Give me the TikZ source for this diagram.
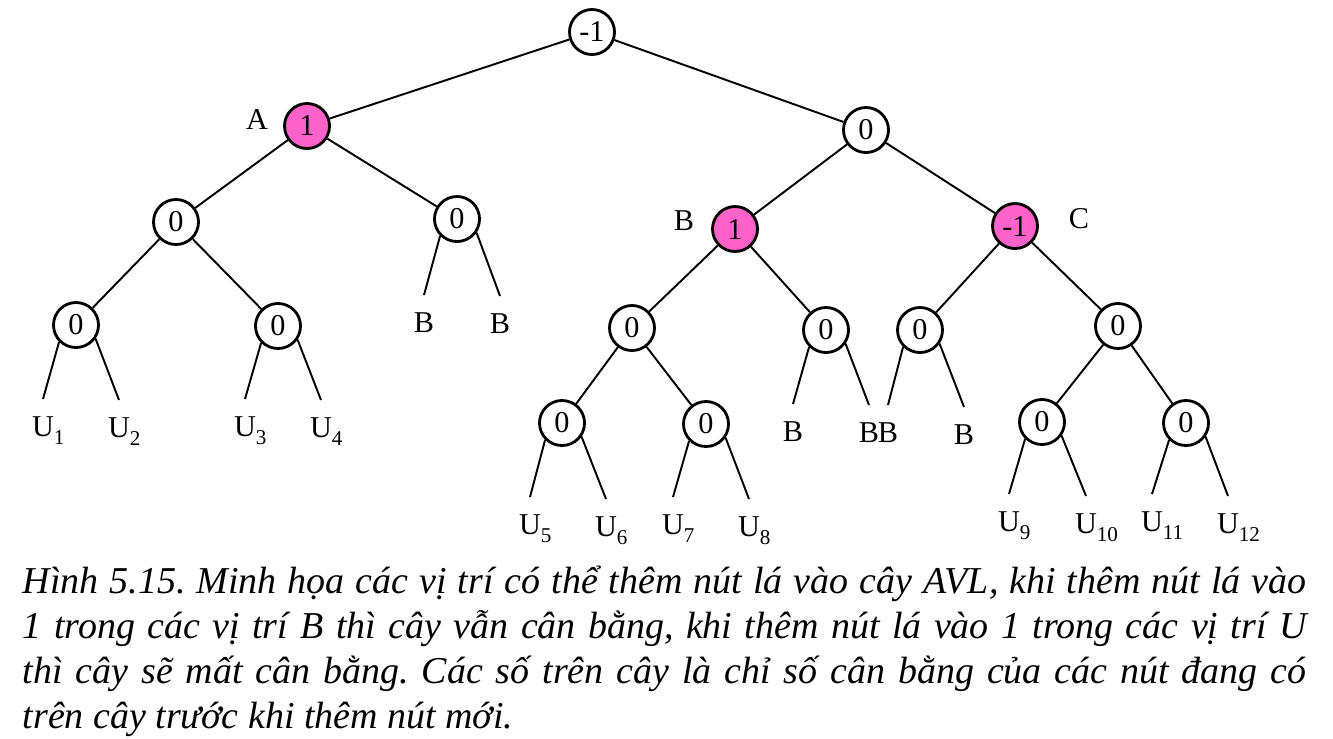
\documentclass[tikz,border=0pt]{standalone}
\usepackage{fontspec}
\setmainfont{Liberation Serif}
\usepackage{tikz}
\pgfdeclarelayer{edgelayer}
\pgfdeclarelayer{nodelayer}
\pgfsetlayers{edgelayer,nodelayer,main}
\definecolor{lpink}{RGB}{252,98,200}
\tikzstyle{none}=[inner sep=0pt]
\tikzstyle{balance}=[circle,fill=white,draw=black,line width=0.8pt,minimum size=0.45cm,inner sep=0pt,font=\fontsize{8.6pt}{10pt}\selectfont]
\tikzstyle{critical}=[balance,fill=lpink]
\tikzstyle{leaf}=[anchor=north,inner xsep=0pt,inner ysep=0.17cm,font=\fontsize{8.6pt}{10pt}\selectfont]
\tikzstyle{tag}=[inner sep=0pt,font=\fontsize{8.6pt}{10pt}\selectfont]
\tikzstyle{branch}=[-,line width=0.55pt]
\tikzstyle{caption}=[inner sep=0pt,text width=12.83cm,align=justify,font=\fontsize{10.8pt}{12.8pt}\selectfont\itshape\frenchspacing]
\newcommand{\uleaf}[1]{U\rlap{\raisebox{-0.55ex}{\fontsize{6pt}{7pt}\selectfont #1}}}

\begin{document}
\begin{tikzpicture}[x=0.01cm,y=-0.01cm]
	\useasboundingbox (0,0) rectangle (1333,738);
	\begin{pgfonlayer}{nodelayer}
		\node [style=balance] (0) at (592, 32) {-1};
		\node [style=critical] (1) at (307, 126) {1};
		\node [style=balance] (2) at (866, 130) {0};
		\node [style=balance] (3) at (176, 222) {0};
		\node [style=balance] (4) at (457, 219) {0};
		\node [style=critical] (5) at (735, 229) {1};
		\node [style=critical] (6) at (1015, 226) {-1};
		\node [style=balance] (7) at (76, 325) {0};
		\node [style=balance] (8) at (278, 326) {0};
		\node [style=balance] (9) at (632, 328) {0};
		\node [style=balance] (10) at (826, 330) {0};
		\node [style=balance] (11) at (920, 330) {0};
		\node [style=balance] (12) at (1118, 326) {0};
		\node [style=balance] (13) at (562, 423) {0};
		\node [style=balance] (14) at (706, 424) {0};
		\node [style=balance] (15) at (1042, 422) {0};
		\node [style=balance] (16) at (1186, 423) {0};
%		leaves
		\node [style=leaf] (17) at (43, 399) {\uleaf{1}};
		\node [style=leaf] (18) at (119, 400) {\uleaf{2}};
		\node [style=leaf] (19) at (245, 399) {\uleaf{3}};
		\node [style=leaf] (20) at (321, 400) {\uleaf{4}};
		\node [style=leaf] (21) at (424, 295) {B};
		\node [style=leaf] (22) at (500, 296) {B};
		\node [style=leaf] (23) at (793, 404) {B};
		\node [style=leaf] (24) at (869, 405) {B};
		\node [style=leaf] (25) at (888, 405) {B};
		\node [style=leaf] (26) at (964, 407) {B};
		\node [style=leaf] (27) at (530, 497) {\uleaf{5}};
		\node [style=leaf] (28) at (606, 499) {\uleaf{6}};
		\node [style=leaf] (29) at (673, 497) {\uleaf{7}};
		\node [style=leaf] (30) at (749, 499) {\uleaf{8}};
		\node [style=leaf] (31) at (1009, 494) {\uleaf{9}};
		\node [style=leaf] (32) at (1086, 496) {\uleaf{10}};
		\node [style=leaf] (33) at (1152, 494) {\uleaf{11}};
		\node [style=leaf] (34) at (1228, 496) {\uleaf{12}};
%		names
		\node [style=tag] (35) at (257, 120) {A};
		\node [style=tag] (36) at (684, 221) {B};
		\node [style=tag] (37) at (1079, 219) {C};
		\node [style=caption, anchor=north west] (38) at (22, 565) {H\`inh 5.15. Minh họa các vị trí có thể thêm nút lá vào cây AVL, khi thêm nút lá vào\linebreak 1 trong các vị trí B thì cây vẫn cân bằng, khi thêm nút lá vào 1 trong các vị trí U\linebreak thì cây sẽ mất cân bằng. Các số trên cây là chỉ số cân bằng của các nút đang có\linebreak trên cây trước khi thêm nút mới.};
	\end{pgfonlayer}
	\begin{pgfonlayer}{edgelayer}
		\draw [style=branch] (0) to (1);
		\draw [style=branch] (0) to (2);
		\draw [style=branch] (1) to (3);
		\draw [style=branch] (1) to (4);
		\draw [style=branch] (2) to (5);
		\draw [style=branch] (2) to (6);
		\draw [style=branch] (3) to (7);
		\draw [style=branch] (3) to (8);
		\draw [style=branch] (4.225) to (21.north);
		\draw [style=branch] (4.325) to (22.north);
		\draw [style=branch] (5) to (9);
		\draw [style=branch] (5) to (10);
		\draw [style=branch] (6) to (11);
		\draw [style=branch] (6) to (12);
		\draw [style=branch] (7.225) to (17.north);
		\draw [style=branch] (7.325) to (18.north);
		\draw [style=branch] (8.225) to (19.north);
		\draw [style=branch] (8.325) to (20.north);
		\draw [style=branch] (9) to (13);
		\draw [style=branch] (9) to (14);
		\draw [style=branch] (10.225) to (23.north);
		\draw [style=branch] (10.325) to (24.north);
		\draw [style=branch] (11.225) to (25.north);
		\draw [style=branch] (11.325) to (26.north);
		\draw [style=branch] (12) to (15);
		\draw [style=branch] (12) to (16);
		\draw [style=branch] (13.225) to (27.north);
		\draw [style=branch] (13.325) to (28.north);
		\draw [style=branch] (14.225) to (29.north);
		\draw [style=branch] (14.325) to (30.north);
		\draw [style=branch] (15.225) to (31.north);
		\draw [style=branch] (15.325) to (32.north);
		\draw [style=branch] (16.225) to (33.north);
		\draw [style=branch] (16.325) to (34.north);
	\end{pgfonlayer}
\end{tikzpicture}
\end{document}
